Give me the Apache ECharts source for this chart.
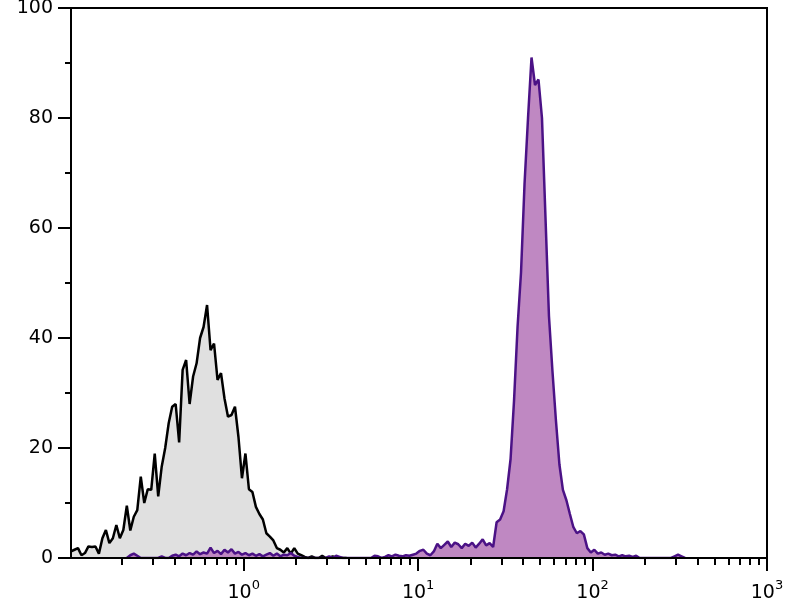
<!DOCTYPE html>
<html>
<head>
<meta charset="utf-8">
<script src="https://cdn.jsdelivr.net/npm/echarts@6/dist/echarts.min.js"></script>
<style>
  html, body { margin: 0; padding: 0; background: #fff; }
  #chart { width: 800px; height: 600px; }
</style>
</head>
<body>
<div id="chart"></div>
<script>
// histogram bins are evenly spaced on a log10 scale
const binStart = -0.99;
const binStep = 0.02;

// unstained control (grey), first bin index 0
const controlFirstBin = 0;
const controlCounts = [
  1.2, 1.5, 1.8, 0.5, 0.9, 2.1, 2.0, 2.1, 0.8, 3.6,
  5.1, 2.7, 3.6, 6.0, 3.6, 5.1, 9.5, 5.0, 7.5, 8.7,
  14.8, 10.0, 12.5, 12.4, 19.0, 11.2, 16.6, 20.0, 24.5, 27.5,
  28.0, 21.0, 34.2, 36.0, 28.0, 33.0, 35.4, 40.0, 42.0, 46.0,
  37.8, 39.0, 32.4, 33.6, 29.0, 25.7, 26.0, 27.5, 22.0, 14.5,
  19.0, 12.5, 12.0, 9.3, 8.0, 7.0, 4.5, 3.9, 3.2, 1.8,
  1.5, 1.0, 1.8, 0.8, 1.8, 0.8, 0.5, 0.2, 0, 0.3,
  0, 0, 0.4, 0, 0, 0.3, 0, 0, 0, 0
];

// stained sample (purple), first bin index 16
const stainedFirstBin = 16;
const stainedCounts = [
  0, 0.5, 0.8, 0.4, 0, 0, 0, 0, 0, 0,
  0.3, 0, 0, 0.4, 0.6, 0.3, 0.8, 0.5, 0.9, 0.6,
  1.2, 0.7, 1.0, 0.8, 1.9, 0.9, 1.3, 0.7, 1.5, 1.0,
  1.6, 0.8, 1.1, 0.6, 0.9, 0.5, 0.8, 0.4, 0.7, 0.3,
  0.6, 0.9, 0.4, 0.8, 0.3, 0.6, 0.5, 0.9, 0.4, 0.2,
  0, 0, 0, 0, 0, 0, 0, 0, 0.3, 0,
  0.4, 0.2, 0, 0, 0, 0, 0, 0, 0, 0,
  0, 0.4, 0.3, 0, 0.2, 0.5, 0.3, 0.6, 0.4, 0.3,
  0.5, 0.4, 0.6, 0.8, 1.3, 1.5, 0.8, 0.5, 1.2, 2.6,
  1.8, 2.4, 3.0, 2.0, 2.8, 2.5, 1.8, 2.6, 2.2, 2.8,
  1.9, 2.6, 3.4, 2.3, 2.7, 2.0, 6.5, 7.0, 8.5, 12.5,
  18.0, 28.7, 42.0, 52.0, 68.0, 80.0, 91.0, 86.0, 87.0, 80.0,
  62.0, 44.0, 34.0, 25.0, 17.0, 12.4, 10.5, 8.0, 5.6, 4.5,
  4.9, 4.3, 1.8, 1.0, 1.5, 0.8, 1.0, 0.6, 0.8, 0.5,
  0.6, 0.3, 0.5, 0.3, 0.4, 0.2, 0.4, 0, 0, 0,
  0, 0, 0, 0, 0, 0, 0, 0.3, 0.6, 0.3,
  0
];

// axis range (log10 units) and tick values
const xMin = -0.99;
const xMax = 3;
const majorExponents = [0, 1, 2, 3];
const minorTickValues = [
  0.2, 0.3, 0.4, 0.5, 0.6, 0.7, 0.8, 0.9,
  2, 3, 4, 5, 6, 7, 8, 9,
  20, 30, 40, 50, 60, 70, 80, 90,
  200, 300, 400, 500, 600, 700, 800, 900
];

const toPoints = (first, counts) =>
  counts.map((c, k) => [binStart + (first + k) * binStep, c]);

const FONT = 'DejaVu Sans';
const chart = echarts.init(document.getElementById('chart'), null, { renderer: 'canvas' });

chart.setOption({
  animation: false,
  backgroundColor: '#fff',
  grid: {
    left: 71, top: 8, width: 696, height: 550,
    outerBoundsMode: 'none',
    show: true, borderColor: '#000', borderWidth: 2, backgroundColor: 'transparent'
  },
  xAxis: [{
    type: 'value', min: xMin, max: xMax, position: 'bottom', z: 5,
    axisLine: { onZero: false, lineStyle: { color: '#000', width: 2 } },
    axisTick: { customValues: majorExponents, length: 13, lineStyle: { color: '#000', width: 2 } },
    axisLabel: {
      customValues: majorExponents,
      margin: 21,
      formatter: v => '{base|10}{sup|' + Math.round(v) + '}',
      rich: {
        base: { fontFamily: FONT, fontSize: 19, color: '#000', lineHeight: 28 },
        sup: { fontFamily: FONT, fontSize: 13, color: '#000', lineHeight: 13, verticalAlign: 'top' }
      }
    },
    splitLine: { show: false }
  }, {
    type: 'value', min: xMin, max: xMax, position: 'bottom', z: 5,
    axisLine: { show: false, onZero: false },
    axisTick: { customValues: minorTickValues.map(Math.log10), length: 7, lineStyle: { color: '#000', width: 2 } },
    axisLabel: { show: false },
    splitLine: { show: false }
  }],
  yAxis: {
    type: 'value', min: 0, max: 100, interval: 20, z: 5,
    axisLine: { show: true, onZero: false, lineStyle: { color: '#000', width: 2 } },
    axisTick: { show: true, length: 13, lineStyle: { color: '#000', width: 2 } },
    minorTick: { show: true, splitNumber: 2, length: 6, lineStyle: { color: '#000', width: 2 } },
    axisLabel: { fontFamily: FONT, fontSize: 19, color: '#000', margin: 18 },
    splitLine: { show: false }
  },
  series: [{
    name: 'control',
    type: 'line',
    xAxisIndex: 0,
    data: toPoints(controlFirstBin, controlCounts),
    symbol: 'none',
    lineStyle: { color: '#000', width: 2.5 },
    areaStyle: { color: '#e0e0e0', opacity: 1 },
    z: 2
  }, {
    name: 'stained',
    type: 'line',
    xAxisIndex: 0,
    data: toPoints(stainedFirstBin, stainedCounts),
    symbol: 'none',
    lineStyle: { color: '#4b1286', width: 2.5 },
    areaStyle: { color: '#bf88c2', opacity: 1 },
    z: 3
  }]
});
</script>
</body>
</html>
